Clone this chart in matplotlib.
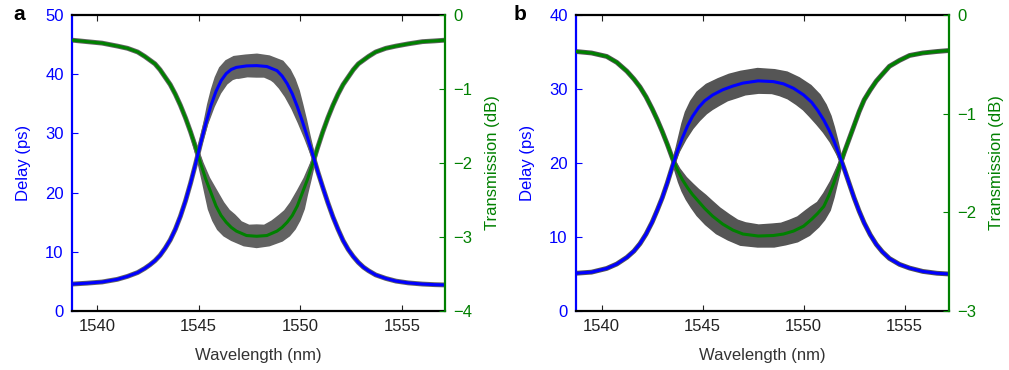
import matplotlib
matplotlib.use("Agg")
import matplotlib.pyplot as plt
from matplotlib.patches import Polygon
import numpy as np

plt.rcParams['font.family'] = ['Liberation Sans', 'DejaVu Sans']

# ---------------- Panel a data ----------------
wl_a = [1538.77, 1539.5, 1540.25, 1541.0, 1541.5, 1542.0, 1542.35, 1542.6, 1542.85,
        1543.1, 1543.35, 1543.6, 1543.85, 1544.1, 1544.35, 1544.6, 1544.85, 1545.1,
        1545.35, 1545.6, 1545.85, 1546.1, 1546.35, 1546.6, 1546.85, 1547.35, 1547.85,
        1548.35, 1548.85, 1549.1, 1549.35, 1549.6, 1549.85, 1550.1, 1550.35, 1550.6,
        1550.85, 1551.1, 1551.35, 1551.6, 1551.85, 1552.1, 1552.35, 1552.6, 1552.85,
        1553.1, 1553.35, 1553.7, 1554.2, 1554.7, 1555.3, 1556.0, 1556.6, 1557.11]
delay_a = [4.55, 4.7, 4.9, 5.35, 5.85, 6.5, 7.2, 7.8, 8.5,
           9.4, 10.6, 12.0, 13.8, 16.0, 18.6, 21.6, 24.9, 28.4,
           31.7, 34.7, 37.1, 38.9, 40.1, 40.8, 41.15, 41.4, 41.45,
           41.3, 40.6, 39.7, 38.4, 36.7, 34.5, 32.0, 29.3, 26.5,
           23.6, 20.9, 18.3, 15.9, 13.8, 11.9, 10.4, 9.2, 8.2,
           7.4, 6.8, 6.1, 5.5, 5.05, 4.75, 4.55, 4.45, 4.4]
trans_a = [-0.34, -0.36, -0.38, -0.42, -0.45, -0.50, -0.56, -0.61, -0.66,
           -0.74, -0.84, -0.94, -1.07, -1.22, -1.39, -1.58, -1.79, -2.01,
           -2.22, -2.40, -2.58, -2.71, -2.80, -2.87, -2.92, -2.98, -2.99,
           -2.98, -2.92, -2.87, -2.80, -2.71, -2.58, -2.40, -2.22, -2.01,
           -1.79, -1.58, -1.39, -1.22, -1.07, -0.94, -0.84, -0.74, -0.66,
           -0.61, -0.56, -0.50, -0.45, -0.42, -0.39, -0.36, -0.35, -0.34]
# half-width of the gray spread of the measured traces
delay_spread_a = [0, 0, 0, 0, 0, 0, 0, 0, 0,
                  0, 0, 0, 0, 0, 0, 0.05, 0.1, 0.2,
                  0.3, 0.55, 0.8, 1.1, 1.45, 1.7, 1.85, 1.8, 1.9,
                  1.8, 1.85, 1.7, 1.5, 1.25, 0.95, 0.7, 0.45, 0.25,
                  0.1, 0.03, 0, 0, 0, 0, 0, 0, 0,
                  0, 0, 0, 0, 0, 0, 0, 0, 0]
trans_spread_a = [0, 0, 0, 0, 0, 0, 0, 0, 0,
                  0, 0, 0, 0, 0, 0, 0.01, 0.02, 0.03,
                  0.05, 0.08, 0.11, 0.13, 0.15, 0.15, 0.14, 0.14, 0.15,
                  0.14, 0.15, 0.15, 0.14, 0.12, 0.10, 0.07, 0.045, 0.025,
                  0.01, 0, 0, 0, 0, 0, 0, 0, 0,
                  0, 0, 0, 0, 0, 0, 0, 0, 0]

# ---------------- Panel b data ----------------
wl_b = [1538.73, 1539.5, 1540.25, 1540.75, 1541.25, 1541.6, 1541.9, 1542.2,
        1542.5, 1542.75, 1543.0, 1543.25, 1543.5, 1543.75, 1544.0, 1544.25,
        1544.5, 1544.8, 1545.1, 1545.5, 1546.0, 1546.5, 1547.0, 1547.75,
        1548.5, 1549.0, 1549.5, 1550.0, 1550.4, 1550.7, 1551.0, 1551.25,
        1551.5, 1551.75, 1552.0, 1552.25, 1552.5, 1552.75, 1553.0, 1553.3,
        1553.6, 1553.9, 1554.25, 1554.75, 1555.25, 1555.9, 1556.6, 1557.2]
delay_b = [5.1, 5.25, 5.75, 6.35, 7.25, 8.1, 9.1, 10.4,
           12.0, 13.6, 15.3, 17.3, 19.5, 21.6, 23.4, 25.0,
           26.3, 27.5, 28.4, 29.2, 29.9, 30.4, 30.8, 31.1,
           31.0, 30.7, 30.1, 29.2, 28.2, 27.1, 25.8, 24.5,
           23.0, 21.2, 19.3, 17.3, 15.3, 13.5, 11.9, 10.3,
           9.0, 8.0, 7.1, 6.3, 5.8, 5.35, 5.1, 5.0]
trans_b = [-0.37, -0.385, -0.42, -0.48, -0.57, -0.65, -0.73, -0.83,
           -0.95, -1.06, -1.18, -1.31, -1.45, -1.57, -1.67, -1.75,
           -1.82, -1.89, -1.96, -2.04, -2.12, -2.18, -2.22, -2.24,
           -2.235, -2.22, -2.19, -2.14, -2.07, -2.01, -1.94, -1.83,
           -1.70, -1.55, -1.40, -1.26, -1.12, -0.98, -0.86, -0.76,
           -0.67, -0.60, -0.52, -0.46, -0.41, -0.385, -0.37, -0.36]
delay_spread_b = [0, 0, 0, 0, 0, 0, 0, 0,
                  0, 0, 0, 0, 0.1, 0.25, 0.5, 0.8,
                  1.1, 1.35, 1.55, 1.65, 1.6, 1.65, 1.6, 1.65,
                  1.6, 1.65, 1.6, 1.6, 1.5, 1.35, 1.1, 0.8,
                  0.5, 0.25, 0.1, 0, 0, 0, 0, 0,
                  0, 0, 0, 0, 0, 0, 0, 0]
trans_spread_b = [0, 0, 0, 0, 0, 0, 0, 0,
                  0, 0, 0, 0, 0.01, 0.025, 0.045, 0.065,
                  0.08, 0.095, 0.105, 0.11, 0.115, 0.11, 0.115, 0.11,
                  0.115, 0.11, 0.115, 0.11, 0.105, 0.095, 0.075, 0.055,
                  0.035, 0.02, 0.01, 0, 0, 0, 0, 0,
                  0, 0, 0, 0, 0, 0, 0, 0]

x_ticks = [1540, 1545, 1550, 1555]

BLUE = '#0000ff'
GREEN = '#008000'


def add_band(ax, trans, x, y, s, color):
    """Gray spread drawn as a stroke around the curve (offset along the normals)."""
    x = np.asarray(x, float)
    y = np.asarray(y, float)
    s = np.asarray(s, float)
    pts = trans.transform(np.column_stack([x, y]))
    up = trans.transform(np.column_stack([x, y + s]))
    hpx = up[:, 1] - pts[:, 1]
    dx = np.gradient(pts[:, 0])
    dy = np.gradient(pts[:, 1])
    L = np.hypot(dx, dy)
    nx, ny = -dy / L, dx / L
    upper = pts + np.column_stack([nx * hpx, ny * hpx])
    lower = pts - np.column_stack([nx * hpx, ny * hpx])
    poly = np.vstack([upper, lower[::-1]])
    data = trans.inverted().transform(poly)
    ax.add_patch(Polygon(data, closed=True, transform=trans, fc=color, ec=color,
                         lw=1.2, joinstyle='round', zorder=1))


fig = plt.figure(figsize=(10.09, 3.70), dpi=100)

panels = [
    dict(pos=[72/1009, 1-311/370, 373/1009, 296/370], wl=wl_a, d=delay_a, t=trans_a,
         ds=delay_spread_a, ts=trans_spread_a, xlim=(1538.77, 1557.11),
         dlim=(0, 50), dticks=[0, 10, 20, 30, 40, 50],
         tlim=(-4, 0), tticks=[0, -1, -2, -3, -4], letter='a', lx=13/1009,
         gray='#626262'),
    dict(pos=[576/1009, 1-311/370, 373/1009, 296/370], wl=wl_b, d=delay_b, t=trans_b,
         ds=delay_spread_b, ts=trans_spread_b, xlim=(1538.73, 1557.2),
         dlim=(0, 40), dticks=[0, 10, 20, 30, 40],
         tlim=(-3, 0), tticks=[0, -1, -2, -3], letter='b', lx=514/1009,
         gray='#555555'),
]

for p in panels:
    ax = fig.add_axes(p['pos'])
    ax2 = ax.twinx()
    ax.set_xlim(*p['xlim'])
    ax.set_ylim(*p['dlim'])
    ax2.set_ylim(*p['tlim'])
    ax.set_autoscale_on(False)
    ax2.set_autoscale_on(False)

    tr1 = ax.transData
    tr2 = ax2.transData
    g = p['gray']

    add_band(ax, tr1, p['wl'], p['d'], p['ds'], g)
    add_band(ax, tr2, p['wl'], p['t'], p['ts'], g)
    ax.plot(p['wl'], p['d'], color=g, lw=3.5, zorder=2)
    ax.plot(p['wl'], p['t'], color=g, lw=3.5, zorder=2, transform=tr2)
    ax.plot(p['wl'], p['t'], color=GREEN, lw=2.2, zorder=3, transform=tr2)
    ax.plot(p['wl'], p['d'], color=BLUE, lw=2.2, zorder=4)

    for s in ['top', 'bottom']:
        ax.spines[s].set_color('black')
        ax.spines[s].set_linewidth(1.6)
    ax.spines['left'].set_color(BLUE)
    ax.spines['left'].set_linewidth(1.6)
    ax.spines['right'].set_visible(False)
    for s in ['top', 'bottom', 'left']:
        ax2.spines[s].set_visible(False)
    ax2.spines['right'].set_color(GREEN)
    ax2.spines['right'].set_linewidth(1.6)

    ax.set_xticks(x_ticks)
    ax.set_yticks(p['dticks'])
    ax2.set_yticks(p['tticks'])
    ax.tick_params(axis='x', direction='in', top=True, bottom=True, length=4,
                   width=0.8, labelsize=12, colors='#222222', pad=6)
    ax.tick_params(axis='y', direction='in', left=True, right=False, length=4,
                   width=0.8, labelsize=12, colors=BLUE, pad=6)
    ax2.tick_params(axis='y', direction='in', right=True, length=4, width=0.8,
                    labelsize=12, colors=GREEN, pad=6)

    ax.set_ylabel('Delay (ps)', color=BLUE, fontsize=12, labelpad=10)
    ax2.set_ylabel('Transmission (dB)', color=GREEN, fontsize=12, labelpad=9)
    ax.set_xlabel('Wavelength (nm)', color='#333333', fontsize=12, labelpad=10)

    fig.text(p['lx'], 1-15/370, p['letter'], fontsize=15, fontweight='bold',
             ha='left', va='center')

fig.savefig('out.png', dpi=100)
